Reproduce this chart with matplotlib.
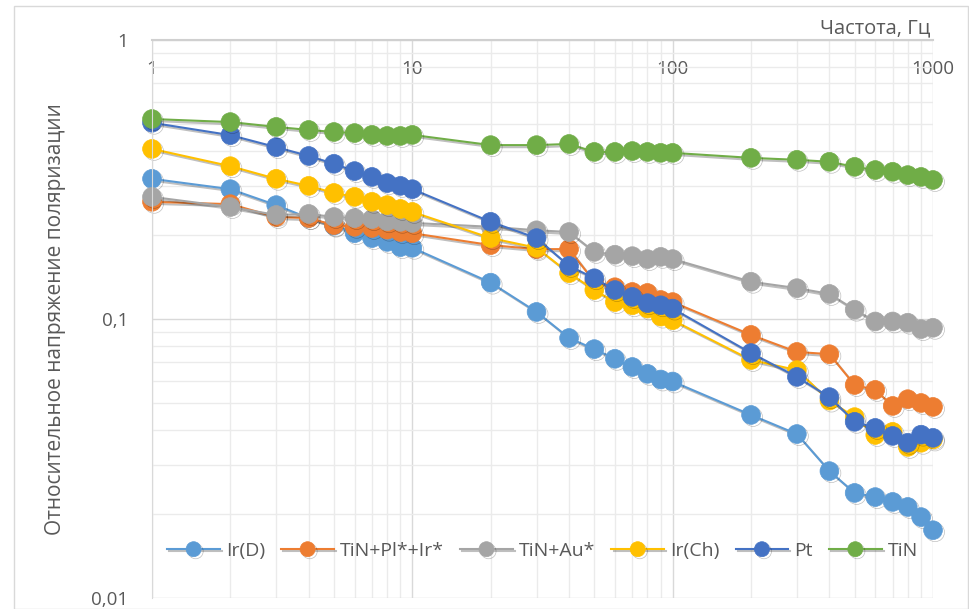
import matplotlib
matplotlib.use("Agg")
import matplotlib.pyplot as plt
import matplotlib.patheffects as pe
from matplotlib.ticker import FixedLocator, FuncFormatter, LogLocator, NullFormatter
from matplotlib.patches import Rectangle

plt.rcParams['font.family'] = ['Open Sans', 'DejaVu Sans']

freq = [1, 2, 3, 4, 5, 6, 7, 8, 9, 10, 20, 30, 40, 50, 60, 70, 80, 90, 100,
        200, 300, 400, 500, 600, 700, 800, 900, 1000]

ir_d = [0.318, 0.292, 0.256, 0.230, 0.216, 0.203, 0.195, 0.189, 0.181, 0.180,
        0.135, 0.106, 0.0855, 0.078, 0.072, 0.0673, 0.0636, 0.0607, 0.0597,
        0.0453, 0.0387, 0.0285, 0.0238, 0.0230, 0.0221, 0.0212, 0.0195, 0.0175]
tin_pl_ir = [0.263, 0.258, 0.232, 0.230, 0.217, 0.214, 0.212, 0.209, 0.205, 0.203,
             0.184, 0.178, 0.178, 0.136, 0.130, 0.125, 0.124, 0.117, 0.115,
             0.0877, 0.0762, 0.0748, 0.058, 0.0557, 0.0488, 0.0516, 0.050, 0.0484]
tin_au = [0.274, 0.252, 0.236, 0.238, 0.232, 0.230, 0.228, 0.224, 0.223, 0.221,
          0.214, 0.208, 0.205, 0.174, 0.170, 0.168, 0.164, 0.167, 0.164,
          0.136, 0.129, 0.123, 0.108, 0.098, 0.098, 0.097, 0.092, 0.093]
ir_ch = [0.407, 0.353, 0.318, 0.300, 0.283, 0.274, 0.263, 0.256, 0.248, 0.242,
         0.195, 0.180, 0.146, 0.127, 0.115, 0.112, 0.109, 0.102, 0.099,
         0.0713, 0.0656, 0.051, 0.0445, 0.0384, 0.0394, 0.0348, 0.036, 0.037]
pt = [0.505, 0.456, 0.413, 0.384, 0.360, 0.339, 0.323, 0.307, 0.300, 0.292,
      0.223, 0.195, 0.155, 0.140, 0.127, 0.120, 0.114, 0.112, 0.109,
      0.0755, 0.062, 0.0525, 0.0428, 0.0407, 0.0381, 0.036, 0.0385, 0.0375]
tin = [0.521, 0.508, 0.488, 0.476, 0.468, 0.464, 0.457, 0.453, 0.453, 0.457,
       0.420, 0.420, 0.424, 0.397, 0.397, 0.400, 0.397, 0.394, 0.394,
       0.378, 0.372, 0.366, 0.351, 0.342, 0.337, 0.328, 0.323, 0.315]

series_names = ['Ir(D)', 'TiN+Pl*+Ir*', 'TiN+Au*', 'Ir(Ch)', 'Pt', 'TiN']
series_values = [ir_d, tin_pl_ir, tin_au, ir_ch, pt, tin]
colors = ['#5B9BD5', '#ED7D31', '#A5A5A5', '#FFC000', '#4472C4', '#70AD47']

x_ticks = [1, 10, 100, 1000]
x_tick_labels = ['1', '10', '100', '1000']
y_ticks = [0.01, 0.1, 1]
y_tick_labels = ['0,01', '0,1', '1']

fig = plt.figure(figsize=(9.7, 6.09), dpi=100)
fig.patches.append(Rectangle((14 / 970, 0), 954 / 970, 1 - 6 / 609, transform=fig.transFigure,
                             fill=False, edgecolor='#D9D9D9', linewidth=1.0))
ax = fig.add_axes([152 / 970, 1 - 598 / 609, (933 - 152) / 970, (598 - 40) / 609])

shadow = [pe.SimpleLineShadow(offset=(1.5, -1.5), shadow_color='black', alpha=0.25), pe.Normal()]
for name, vals, c in zip(series_names, series_values, colors):
    ax.plot(freq, vals, color=c, linewidth=1.5, marker='o', markersize=13.5,
            markeredgecolor=c, markeredgewidth=0.5, label=name, path_effects=shadow,
            clip_on=False)

ax.set_xscale('log')
ax.set_yscale('log')
ax.set_xlim(1, 1000)
ax.set_ylim(0.01, 1)

ax.xaxis.set_major_locator(FixedLocator(x_ticks))
ax.xaxis.set_major_formatter(FuncFormatter(lambda v, p: x_tick_labels[x_ticks.index(round(v))] if round(v) in x_ticks else ''))
ax.xaxis.set_minor_locator(LogLocator(base=10, subs=range(2, 10)))
ax.xaxis.set_minor_formatter(NullFormatter())
ax.yaxis.set_major_locator(FixedLocator(y_ticks))
ax.yaxis.set_major_formatter(FuncFormatter(lambda v, p: y_tick_labels[min(range(3), key=lambda i: abs(y_ticks[i] - v))]))
ax.yaxis.set_minor_locator(LogLocator(base=10, subs=range(2, 10)))
ax.yaxis.set_minor_formatter(NullFormatter())

ax.grid(which='major', color='#D9D9D9', linewidth=1.0)
ax.grid(which='minor', color='#EBEBEB', linewidth=1.0)
ax.set_axisbelow(True)

ax.xaxis.tick_top()
ax.tick_params(axis='x', which='both', length=0, labelsize=13.5, labelcolor='#595959', pad=-27)
ax.tick_params(axis='y', which='both', length=0, labelsize=13.5, labelcolor='#595959', pad=17)

for s in ['right', 'bottom']:
    ax.spines[s].set_visible(False)
ax.spines['top'].set_color('#D0D0D0')
ax.spines['top'].set_linewidth(1.5)
ax.spines['left'].set_color('#D9D9D9')

ax.set_ylabel('Относительное напряжение поляризации', fontsize=15, color='#595959', labelpad=18)
fig.text(930 / 970, 1 - 28 / 609, 'Частота, Гц', ha='right', va='center', fontsize=14.5, color='#595959')

leg = ax.legend(loc='center', bbox_to_anchor=(0.5, 1 - (551 - 40) / 558), ncol=6, frameon=False,
                fontsize=14, handlelength=2.7, columnspacing=0.85, handletextpad=0.3, markerscale=0.8,
                labelcolor='#595959')

fig.savefig('out.png', dpi=100)
